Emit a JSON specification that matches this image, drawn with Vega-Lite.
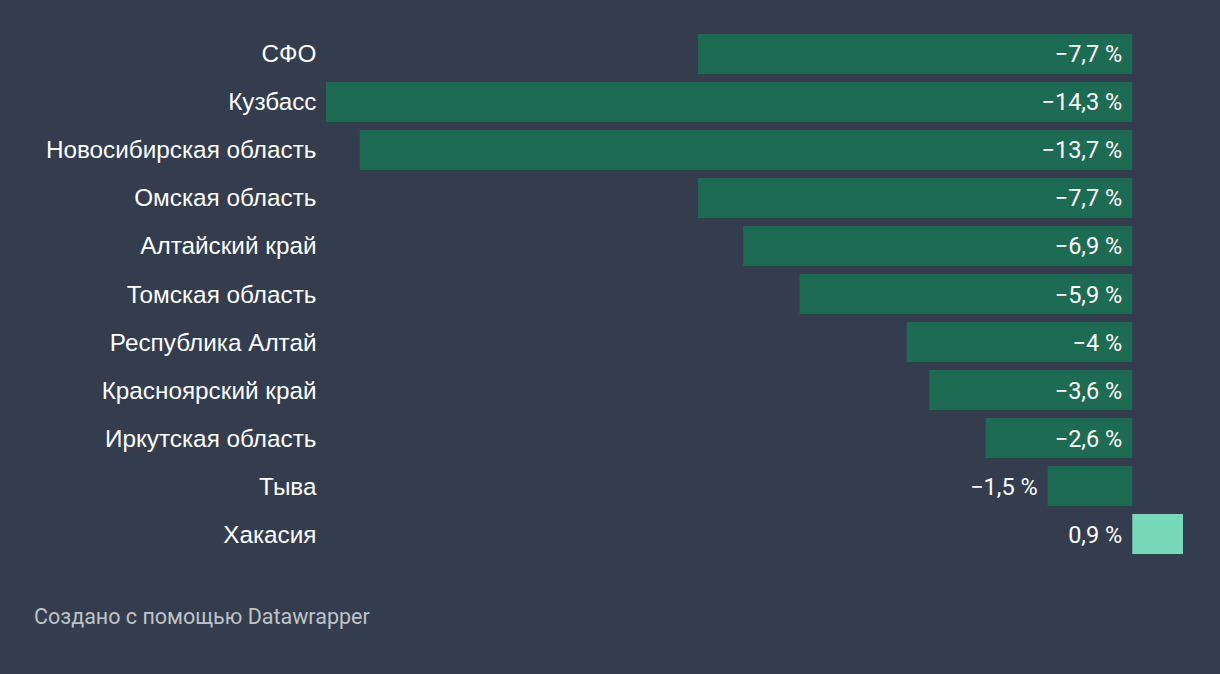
{
  "$schema": "https://vega.github.io/schema/vega-lite/v6.json",
  "width": 857,
  "height": 528,
  "autosize": {"type": "none"},
  "padding": {"left": 326, "top": 30, "right": 37, "bottom": 116},
  "background": "#333d4d",
  "config": {"view": {"stroke": null}},
  "title": {
    "text": "Создано с помощью Datawrapper",
    "orient": "bottom",
    "anchor": "start",
    "frame": "group",
    "dx": -292,
    "offset": 49,
    "font": "Roboto",
    "fontSize": 21.5,
    "fontWeight": "normal",
    "color": "#bfc3c8"
  },
  "data": {
    "values": [
      {"region": "СФО", "value": -7.7, "label": "−7,7 %"},
      {"region": "Кузбасс", "value": -14.3, "label": "−14,3 %"},
      {"region": "Новосибирская область", "value": -13.7, "label": "−13,7 %"},
      {"region": "Омская область", "value": -7.7, "label": "−7,7 %"},
      {"region": "Алтайский край", "value": -6.9, "label": "−6,9 %"},
      {"region": "Томская область", "value": -5.9, "label": "−5,9 %"},
      {"region": "Республика Алтай", "value": -4, "label": "−4 %"},
      {"region": "Красноярский край", "value": -3.6, "label": "−3,6 %"},
      {"region": "Иркутская область", "value": -2.6, "label": "−2,6 %"},
      {"region": "Тыва", "value": -1.5, "label": "−1,5 %"},
      {"region": "Хакасия", "value": 0.9, "label": "0,9 %"}
    ]
  },
  "encoding": {
    "y": {
      "field": "region",
      "type": "nominal",
      "sort": null,
      "scale": {"paddingInner": 0.1667, "paddingOuter": 0.0833},
      "axis": {
        "title": null,
        "domain": false,
        "ticks": false,
        "labelPadding": 10,
        "labelOffset": 1.5,
        "labelFont": "Liberation Sans",
        "labelFontSize": 24.3,
        "labelColor": "#ffffff",
        "labelLimit": 400
      }
    }
  },
  "layer": [
    {
      "mark": {"type": "bar"},
      "encoding": {
        "x": {
          "field": "value",
          "type": "quantitative",
          "scale": {"domain": [-14.3, 0.9], "nice": false, "zero": false},
          "axis": null
        },
        "color": {
          "condition": {"test": "datum.value > 0", "value": "#77d9b7"},
          "value": "#1e6b53"
        }
      }
    },
    {
      "mark": {"type": "rule", "color": "#ffffff", "strokeWidth": 2},
      "encoding": {"x": {"datum": 0}}
    },
    {
      "transform": [{"filter": "datum.value <= -2 || datum.value > 0"}],
      "mark": {"type": "text", "align": "right", "dx": -10, "dy": 1.5, "font": "Roboto", "fontSize": 23.5, "color": "#ffffff"},
      "encoding": {
        "x": {"datum": 0},
        "text": {"field": "label"}
      }
    },
    {
      "transform": [{"filter": "datum.value > -2 && datum.value < 0"}],
      "mark": {"type": "text", "align": "right", "dx": -10, "dy": 1.5, "font": "Roboto", "fontSize": 23.5, "color": "#ffffff"},
      "encoding": {
        "x": {"field": "value", "type": "quantitative"},
        "text": {"field": "label"}
      }
    }
  ]
}
